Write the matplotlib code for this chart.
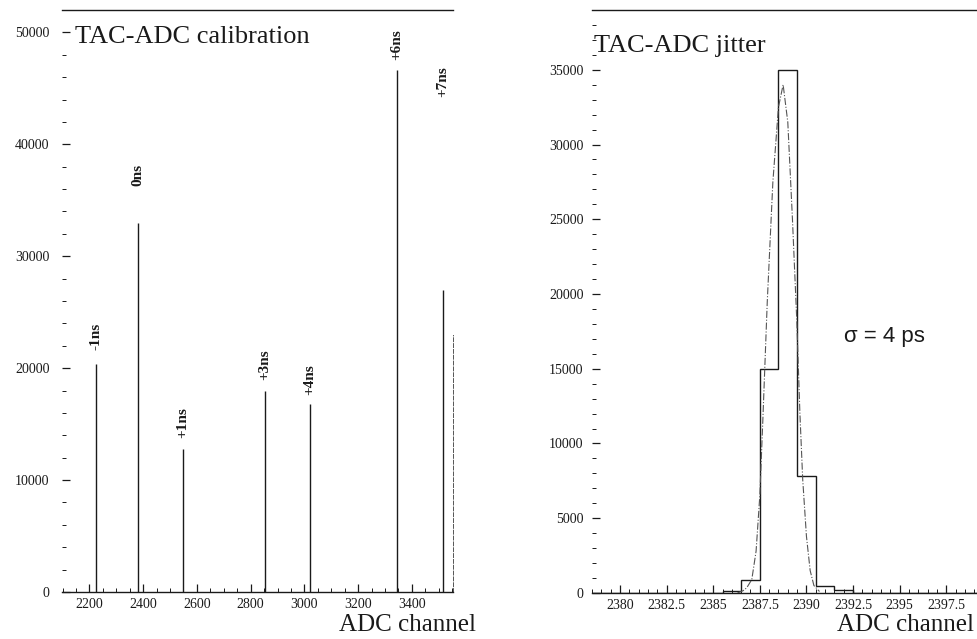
import matplotlib
matplotlib.use("Agg")
import matplotlib.pyplot as plt
from matplotlib.ticker import MultipleLocator

# left panel: calibration peaks
cal_labels = ["-1ns", "0ns", "+1ns", "+3ns", "+4ns", "+6ns", "+7ns"]
cal_channels = [2224, 2382, 2548, 2853, 3020, 3344, 3515]
cal_counts = [20400, 33000, 12800, 18000, 16800, 46600, 27000]
cal_label_y = [21600, 36300, 13800, 18900, 17600, 47500, 44200]

# right panel: jitter histogram (bin centres) and gaussian fit
jit_channels = [2379, 2380, 2381, 2382, 2383, 2384, 2385, 2386, 2387, 2388, 2389,
                2390, 2391, 2392, 2393, 2394, 2395, 2396, 2397, 2398, 2399]
jit_counts = [0, 0, 0, 0, 0, 0, 0, 100, 870, 15000, 35000,
              7800, 500, 200, 30, 0, 0, 0, 0, 0, 0]
fit_x = [2386.3, 2386.6, 2386.8, 2387.07, 2387.3, 2387.5, 2387.66, 2387.9, 2388.2,
         2388.5, 2388.75, 2389.0, 2389.25, 2389.48, 2389.65, 2389.8, 2390.0, 2390.2,
         2390.4, 2390.7]
fit_y = [0, 150, 350, 900, 2800, 6500, 11500, 19500, 27500,
         32500, 34000, 31500, 25000, 18300, 12000, 7600, 3800, 1500,
         500, 100]

serif = ["Liberation Serif", "DejaVu Serif"]
ink = "#1a1a1a"

plt.rcParams["font.family"] = serif

fig = plt.figure(figsize=(9.78, 6.39), dpi=100)
ax1 = fig.add_axes([0.0634, 0.0736, 0.3998, 0.9108])
ax2 = fig.add_axes([0.6053, 0.0720, 0.3947, 0.9124])


def style_axes(ax):
    ax.spines["left"].set_visible(False)
    ax.spines["right"].set_visible(False)
    ax.spines["top"].set_linewidth(1.0)
    ax.spines["bottom"].set_linewidth(1.0)
    ax.spines["top"].set_color(ink)
    ax.spines["bottom"].set_color(ink)
    ax.tick_params(which="both", direction="in", colors=ink, labelsize=10,
                   top=False, right=False)
    ax.tick_params(which="major", length=6, width=0.9)
    ax.tick_params(which="minor", length=3, width=0.7)
    ax.tick_params(axis="y", pad=9)
    ax.tick_params(axis="x", pad=4)


# left panel
ax1.vlines(cal_channels, 0, cal_counts, color=ink, linewidth=1.0)
for lab, ch, ly in zip(cal_labels, cal_channels, cal_label_y):
    ax1.text(ch, ly, lab, rotation=90, ha="center", va="bottom",
             fontsize=11, fontweight="bold", color=ink)
ax1.set_xlim(2098, 3553)
ax1.set_ylim(0, 52000)
ax1.xaxis.set_major_locator(MultipleLocator(200))
ax1.xaxis.set_minor_locator(MultipleLocator(50))
ax1.yaxis.set_major_locator(MultipleLocator(10000))
ax1.yaxis.set_minor_locator(MultipleLocator(2000))
style_axes(ax1)
ax1.spines["right"].set_visible(True)
ax1.spines["right"].set_bounds(0, 23000)
ax1.spines["right"].set_linewidth(0.7)
ax1.spines["right"].set_linestyle((0, (4, 2)))
ax1.spines["right"].set_color("#555555")
ax1.text(0.033, 0.943, "TAC-ADC calibration", transform=ax1.transAxes,
         fontsize=19, ha="left", va="baseline", color=ink)
ax1.text(1.06, -0.067, "ADC channel", transform=ax1.transAxes,
         fontsize=18, ha="right", va="baseline", color=ink)

# right panel
edges = [c - 0.5 for c in jit_channels] + [jit_channels[-1] + 0.5]
ax2.stairs(jit_counts, edges, color=ink, linewidth=1.0)
ax2.plot(fit_x, fit_y, linestyle="-.", color="#555555", linewidth=0.8)
ax2.set_xlim(2378.5, 2399.2)
ax2.set_ylim(0, 39000)
ax2.xaxis.set_major_locator(MultipleLocator(2.5))
ax2.xaxis.set_minor_locator(MultipleLocator(0.5))
ax2.yaxis.set_major_locator(MultipleLocator(5000))
ax2.yaxis.set_minor_locator(MultipleLocator(1000))
style_axes(ax2)
ax2.tick_params(axis="y", pad=6)
ax2.xaxis.set_major_formatter(plt.FuncFormatter(lambda v, p: f"{v:g}"))
ax2.text(0.005, 0.928, "TAC-ADC jitter", transform=ax2.transAxes,
         fontsize=19, ha="left", va="baseline", color=ink)
ax2.text(0.99, -0.066, "ADC channel", transform=ax2.transAxes,
         fontsize=18, ha="right", va="baseline", color=ink)
ax2.text(2392.0, 16800, "σ = 4 ps", fontsize=16, ha="left", va="baseline",
         color=ink, family=["Liberation Sans", "DejaVu Sans"])

fig.savefig("out.png", dpi=100)
